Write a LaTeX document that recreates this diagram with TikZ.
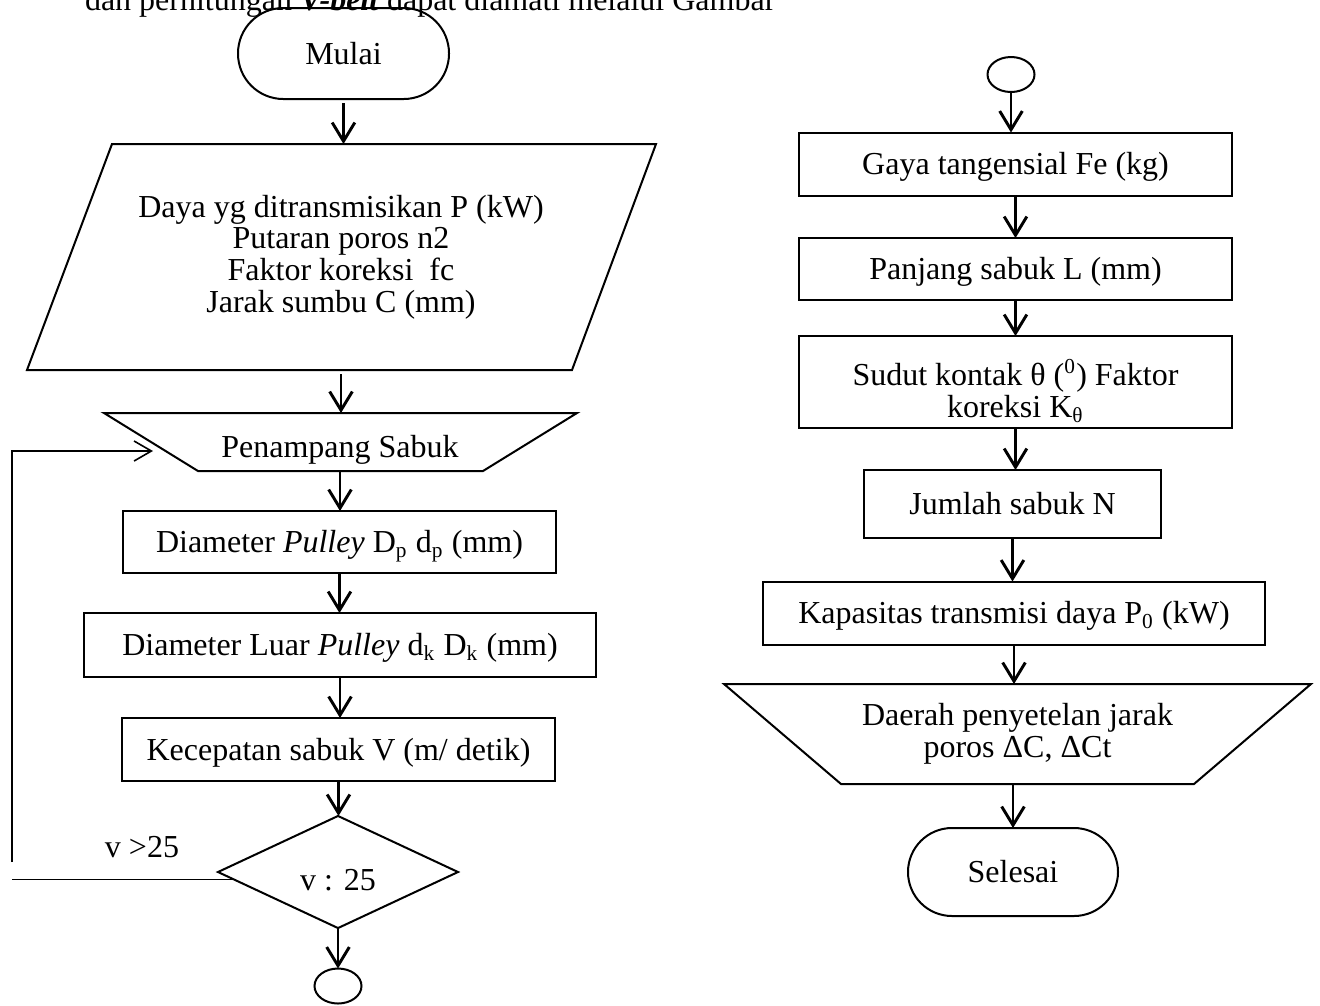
\documentclass[tikz,border=0pt]{standalone}
\usepackage{fontspec}
\setmainfont{Liberation Serif}
\usetikzlibrary{arrows.meta,shapes.geometric,calc}
\newcommand{\pxu}{0.375pt}
\tikzset{
  txt/.style={font=\fontsize{12}{11.9}\selectfont, inner sep=0pt, outer sep=0pt},
  capc/.style={text height=10.8pt, text depth=2.9pt},
  outline/.style={line width=0.75pt, line join=miter},
  procbox/.style={txt, capc, draw, outline, rectangle},
  termbox/.style={txt, capc, draw, outline, rectangle},
  joint/.style={draw, outline, ellipse, inner sep=0pt, outer sep=0pt,
    minimum width=47*\pxu, minimum height=35*\pxu},
  decide/.style={txt, capc, draw, outline, diamond},
  flow/.style={line width=1.1pt, -{Straight Barb[length=7pt,width=8.5pt]}},
  back/.style={line width=0.6pt},
  backarrow/.style={back, -{Straight Barb[length=6.5pt,width=7.5pt]}},
}
\begin{document}
\begin{tikzpicture}[x=\pxu, y=-\pxu]
\path[use as bounding box, clip] (0,0) rectangle (1320,1005);
\fill[white] (0,0) rectangle (1320,1005);

% running text above the chart
\node[txt, anchor=base west] (lead) at (85,10)
  {dan perhitungan \textbf{\textit{V-belt}} dapat diamati melalui Gambar};

% ---------- left column ----------
\node[termbox, rounded corners=17pt, minimum width=211*\pxu, minimum height=91*\pxu]
  (mulai) at (343.5,53.5) {Mulai};

\draw[outline] (112,144) -- (656,144) -- (572,370) -- (27,370) -- cycle;
\node[txt, align=center, minimum width=460*\pxu, minimum height=226*\pxu] (inp) at (341,257)
  {Daya yg ditransmisikan P (kW)\\Putaran poros n2\\Faktor koreksi\ \ fc\\Jarak sumbu C (mm)};

\draw[outline] (104,413) -- (577,413) -- (483,471) -- (198,471) -- cycle;
\node[txt, capc, minimum width=374*\pxu, minimum height=58*\pxu] (pen) at (340,442)
  {\raisebox{-1.9pt}{Penampang Sabuk}};

\node[procbox, minimum width=433*\pxu, minimum height=62*\pxu] (dp) at (339.5,542)
  {Diameter \textit{Pulley} D\textsubscript{p} d\textsubscript{p} (mm)};
\node[procbox, minimum width=512*\pxu, minimum height=64*\pxu] (luar) at (340,645)
  {Diameter Luar \textit{Pulley} d\textsubscript{k}\ D\textsubscript{k} (mm)};
\node[procbox, minimum width=433*\pxu, minimum height=63*\pxu] (kec) at (338.5,749.5)
  {Kecepatan sabuk V (m/ detik)};
\node[decide, minimum width=240*\pxu, minimum height=104*\pxu] (dec) at (338,872)
  {\raisebox{-3pt}{v : 25}};
\node[joint] (off1) at (338,986) {};
\node[txt, capc] (gt) at (142,847) {v >25};

\draw[flow, shorten <=1.5pt] (mulai.south) -- (mulai.south |- inp.north);
\draw[flow, shorten <=1.5pt] (inp.south) -- (inp.south |- pen.north);
\draw[flow] (pen.south) -- (pen.south |- dp.north);
\draw[flow] (dp.south) -- (dp.south |- luar.north);
\draw[flow] (luar.south) -- (luar.south |- kec.north);
\draw[flow] (kec.south) -- (kec.south |- dec.north);
\draw[flow] (dec.south) -- (off1.north);

% return path when v > 25
\coordinate (lt) at (12,451);
\coordinate (lb) at (12,862);
\draw[back] (dec.184) -- (dec.184 -| lb);
\draw[backarrow] (lb) -- (lt) -- (lt -| pen.west);

% ---------- right column ----------
\node[joint] (off2) at (1011,74.5) {};
\node[procbox, minimum width=433*\pxu, minimum height=63*\pxu] (gaya) at (1015.5,164)
  {Gaya tangensial Fe (kg)};
\node[procbox, minimum width=433*\pxu, minimum height=62*\pxu] (panj) at (1015.5,269)
  {Panjang sabuk L (mm)};
\node[draw, outline, inner sep=0pt, outer sep=0pt, minimum width=433*\pxu, minimum height=92*\pxu]
  (sud) at (1015.5,382) {};
\node[txt, align=center] (sudt) at (1015.5,391)
  {Sudut kontak θ (\textsuperscript{0}) Faktor\\koreksi K\textsubscript{θ}};
\node[procbox, minimum width=297*\pxu, minimum height=68*\pxu] (jml) at (1012.5,504)
  {Jumlah sabuk N};
\node[procbox, minimum width=502*\pxu, minimum height=63*\pxu] (kap) at (1014,613)
  {Kapasitas transmisi daya P\textsubscript{0} (kW)};
\draw[outline] (724,684) -- (1311,684) -- (1194,784) -- (841,784) -- cycle;
\node[txt, align=center, minimum width=350*\pxu, minimum height=100*\pxu] (dae) at (1017.5,734)
  {Daerah penyetelan jarak\\poros ΔC, ΔCt};
\node[termbox, rounded corners=16.5pt, minimum width=210*\pxu, minimum height=88*\pxu]
  (sel) at (1013,872) {Selesai};

\draw[flow] (off2.south) -- (off2.south |- gaya.north);
\draw[flow] (gaya.south) -- (gaya.south |- panj.north);
\draw[flow] (panj.south) -- (panj.south |- sud.north);
\draw[flow] (sud.south) -- (sud.south |- jml.north);
\draw[flow] (jml.south) -- (jml.south |- kap.north);
\draw[flow] (kap.south) -- (kap.south |- dae.north);
\draw[flow] (sel.north |- dae.south) -- (sel.north);
\end{tikzpicture}
\end{document}
